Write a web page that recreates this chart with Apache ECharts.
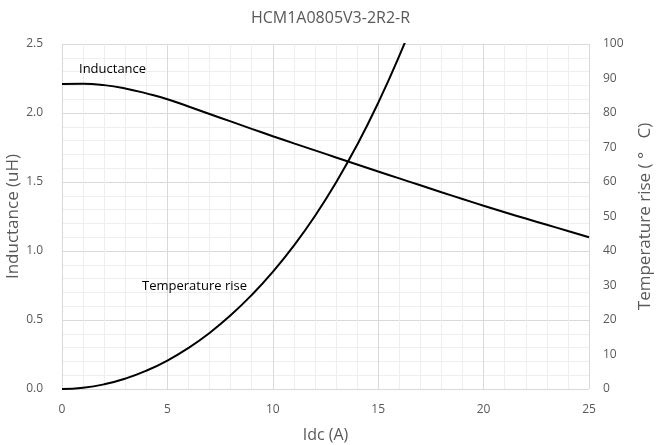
<!DOCTYPE html>
<html>
<head>
<meta charset="utf-8">
<title>HCM1A0805V3-2R2-R</title>
<style>html,body{margin:0;padding:0;background:#fff}</style>
</head>
<body>
<div id="container" style="width:661px;height:445px"></div>
<script src="https://cdn.jsdelivr.net/npm/echarts@6/dist/echarts.min.js"></script>
<script>
// current (A) and readings taken off the curves
var idc = [0, 1, 2, 3, 4, 5, 6, 7, 8, 9, 10, 11, 12, 13, 14, 15, 16, 17, 18, 19, 20, 21, 22, 23, 24, 25];
var inductance = [2.21, 2.212, 2.202, 2.178, 2.142, 2.10, 2.047, 1.993, 1.939, 1.885, 1.832, 1.780, 1.729, 1.678, 1.627, 1.576, 1.526, 1.476, 1.426, 1.377, 1.328, 1.281, 1.235, 1.190, 1.145, 1.10];
var tempIdc = [0, 1, 2, 3, 4, 5, 6, 7, 8, 9, 10, 11, 12, 13, 14, 15, 16, 17];
var tempRise = [0, 0.35, 1.35, 3.0, 5.3, 8.25, 11.9, 16.25, 21.35, 27.25, 33.95, 41.55, 50.15, 59.85, 70.75, 82.95, 96.55, 111.6];

var font = 'Open Sans';
var grey = '#595959';

function pairs(xs, ys) {
    return xs.map(function (x, i) { return [x, ys[i]]; });
}

var chart = echarts.init(document.getElementById('container'));
chart.setOption({
    animation: false,
    textStyle: { fontFamily: font },
    title: {
        text: 'HCM1A0805V3-2R2-R',
        left: 'center',
        top: 5,
        textStyle: { color: grey, fontSize: 16, fontWeight: 'normal', fontFamily: font }
    },
    grid: { left: 62, right: 72, top: 44, bottom: 56, outerBoundsMode: 'none', containLabel: false },
    xAxis: {
        type: 'value',
        min: 0, max: 25, interval: 5,
        name: 'Idc (A)',
        nameLocation: 'middle',
        nameGap: 38,
        nameMoveOverlap: false,
        nameTextStyle: { color: grey, fontSize: 16 },
        axisLine: { show: false },
        axisTick: { show: false },
        axisLabel: { color: grey, fontSize: 12, margin: 15 },
        splitLine: { show: true, lineStyle: { color: '#d9d9d9' } },
        minorTick: { show: false, splitNumber: 5 },
        minorSplitLine: { show: true, lineStyle: { color: '#eeeeee' } }
    },
    yAxis: [{
        type: 'value',
        min: 0, max: 2.5, interval: 0.5,
        name: 'Inductance (uH)',
        nameLocation: 'middle',
        nameGap: 40,
        nameMoveOverlap: false,
        nameTextStyle: { color: grey, fontSize: 17 },
        axisLine: { show: false },
        axisTick: { show: false },
        axisLabel: { color: grey, fontSize: 12, margin: 19, formatter: function (v) { return v.toFixed(1); } },
        splitLine: { show: true, lineStyle: { color: '#d9d9d9' } },
        minorTick: { show: false, splitNumber: 5 },
        minorSplitLine: { show: true, lineStyle: { color: '#eeeeee' } }
    }, {
        type: 'value',
        min: 0, max: 100, interval: 10,
        name: 'Temperature rise ( °   C)',
        nameLocation: 'middle',
        nameGap: 48,
        nameRotate: 90,
        nameMoveOverlap: false,
        nameTextStyle: { color: grey, fontSize: 17 },
        axisLine: { show: false },
        axisTick: { show: false },
        axisLabel: { color: grey, fontSize: 12, margin: 14 },
        splitLine: { show: false }
    }],
    graphic: [
        { type: 'text', z: 100, left: 79, top: 63, style: { text: 'Inductance', fill: '#000', fontSize: 13, fontFamily: font } },
        { type: 'text', z: 100, left: 142, top: 280, style: { text: 'Temperature rise', fill: '#000', fontSize: 13, fontFamily: font } }
    ],
    series: [{
        type: 'line',
        name: 'Inductance',
        yAxisIndex: 0,
        data: pairs(idc, inductance),
        smooth: true,
        showSymbol: false,
        lineStyle: { color: '#000', width: 2 }
    }, {
        type: 'line',
        name: 'Temperature rise',
        yAxisIndex: 1,
        data: pairs(tempIdc, tempRise),
        smooth: true,
        showSymbol: false,
        lineStyle: { color: '#000', width: 2 }
    }]
});
</script>
</body>
</html>
